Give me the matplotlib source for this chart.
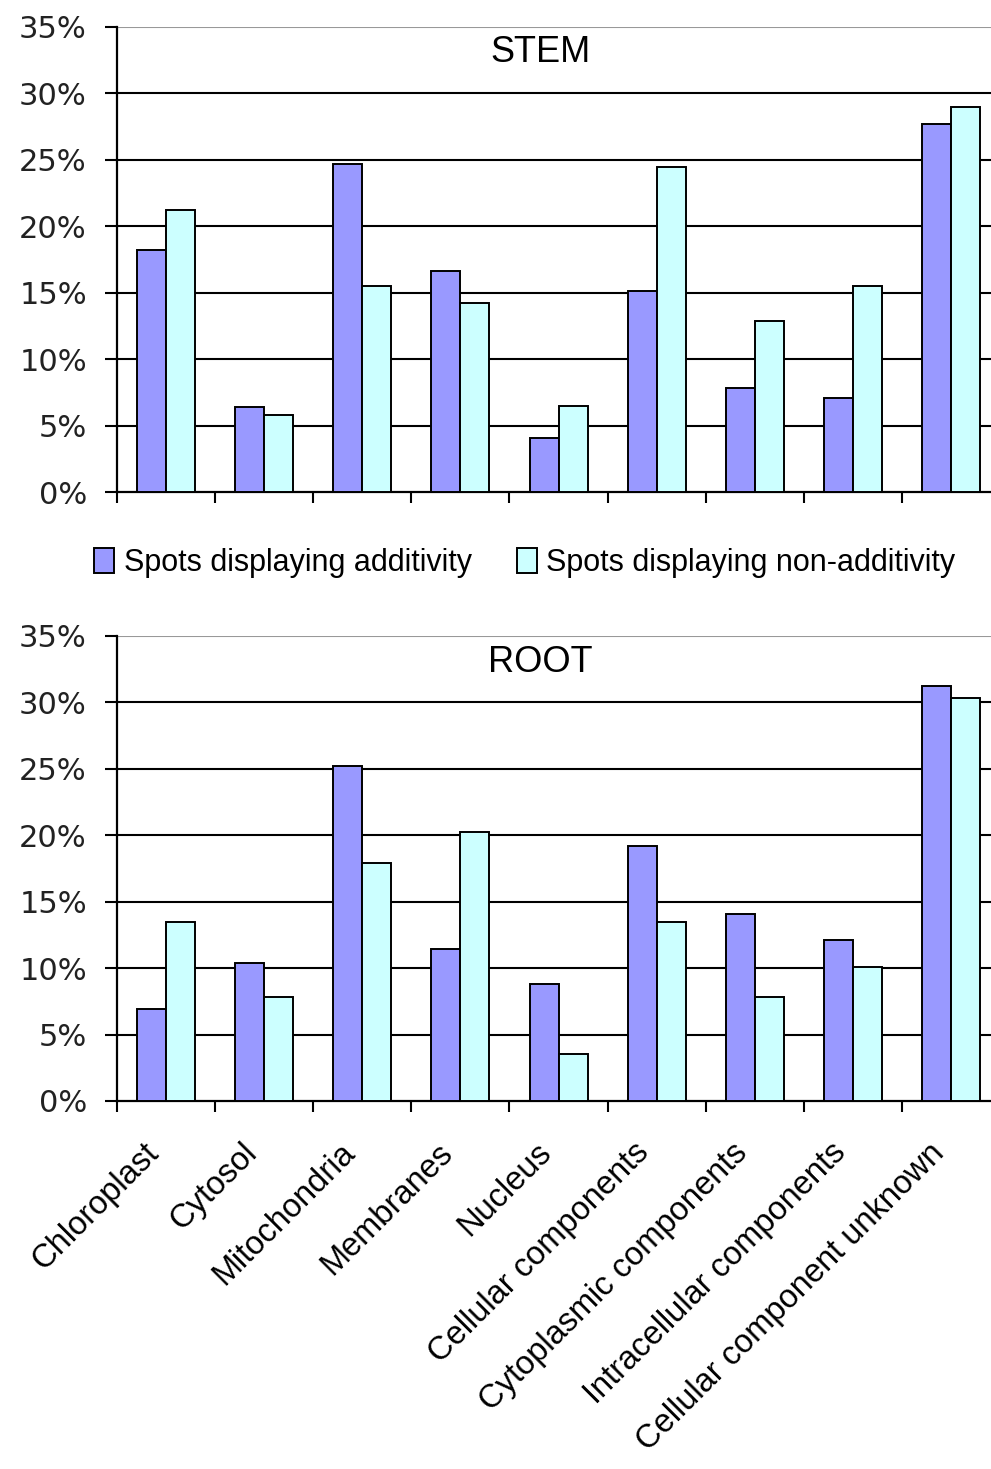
import matplotlib
matplotlib.use("Agg")
import matplotlib.pyplot as plt
import matplotlib.transforms as mtransforms
import numpy as np

categories = ["Chloroplast", "Cytosol", "Mitochondria", "Membranes", "Nucleus",
              "Cellular components", "Cytoplasmic components",
              "Intracellular components", "Cellular component unknown"]

stem_add = [18.2, 6.4, 24.7, 16.6, 4.1, 15.1, 7.85, 7.1, 27.7]
stem_nonadd = [21.2, 5.8, 15.5, 14.2, 6.5, 24.5, 12.9, 15.5, 29.0]
root_add = [6.9, 10.4, 25.2, 11.4, 8.8, 19.2, 14.05, 12.1, 31.25]
root_nonadd = [13.45, 7.85, 17.9, 20.2, 3.5, 13.45, 7.85, 10.05, 30.3]

series_names = ["Spots displaying additivity", "Spots displaying non-additivity"]
colors = ["#9999FF", "#CCFFFF"]
yticks = [0, 5, 10, 15, 20, 25, 30, 35]

W, H = 991, 1469
fig = plt.figure(figsize=(W / 100, H / 100), dpi=100)

left = 116.7 / W
width = (1000.5 - 116.7) / W


def draw_panel(ax, add, nonadd, show_labels):
    n = len(categories)
    x = np.arange(n) + 0.5
    bw = 0.295
    b1 = ax.bar(x - bw / 2, add, bw, color=colors[0], edgecolor="black", linewidth=1.4, zorder=3)
    b2 = ax.bar(x + bw / 2, nonadd, bw, color=colors[1], edgecolor="black", linewidth=1.4, zorder=3)
    ax.set_xlim(0, n)
    ax.set_ylim(0, 35)
    ax.set_yticks(yticks)
    ax.set_yticklabels([f"{v}%" for v in yticks], family="DejaVu Sans", fontsize=22, color="#222222")
    for v in yticks[1:-1]:
        ax.axhline(v, color="black", linewidth=1.5, zorder=1)
    ax.axhline(35, color="#999999", linewidth=1.5, zorder=1)
    for s in ["top", "right"]:
        ax.spines[s].set_visible(False)
    ax.spines["left"].set_linewidth(1.6)
    ax.spines["bottom"].set_linewidth(1.6)
    ax.tick_params(axis="y", direction="out", length=8.5, width=1.5, pad=13)
    ax.set_xticks(np.arange(n))
    ax.set_xticklabels([])
    ax.tick_params(axis="x", which="major", direction="out", length=8, width=1.5)
    if show_labels:
        ax.set_xticks(x, minor=True)
        ax.set_xticklabels(categories, minor=True, rotation=45, ha="right", va="center",
                           rotation_mode="anchor", family="Liberation Sans", fontsize=23.5)
        ax.tick_params(axis="x", which="minor", length=0, pad=34)
        shift = mtransforms.ScaledTranslation(-12 / 100, 0, fig.dpi_scale_trans)
        for lab in ax.get_xticklabels(minor=True):
            lab.set_transform(lab.get_transform() + shift)
    return b1, b2


ax1 = fig.add_axes([left, 1 - 492 / H, width, 465 / H])
bars = draw_panel(ax1, stem_add, stem_nonadd, False)
ax2 = fig.add_axes([left, 1 - 1101 / H, width, 465.3 / H])
draw_panel(ax2, root_add, root_nonadd, True)

fig.text(540.5 / W, 1 - 53 / H, "STEM", ha="center", va="center", family="Liberation Sans", fontsize=26)
fig.text(540.5 / W, 1 - 663 / H, "ROOT", ha="center", va="center", family="Liberation Sans", fontsize=26)

fig.legend(bars, series_names, loc="center", bbox_to_anchor=(525 / W, 1 - 563 / H), ncol=2,
           frameon=False, handlelength=0.65, handleheight=0.85, handletextpad=0.3,
           columnspacing=1.5, prop={"family": "Liberation Sans", "size": 22})

fig.savefig("out.png", dpi=100)
